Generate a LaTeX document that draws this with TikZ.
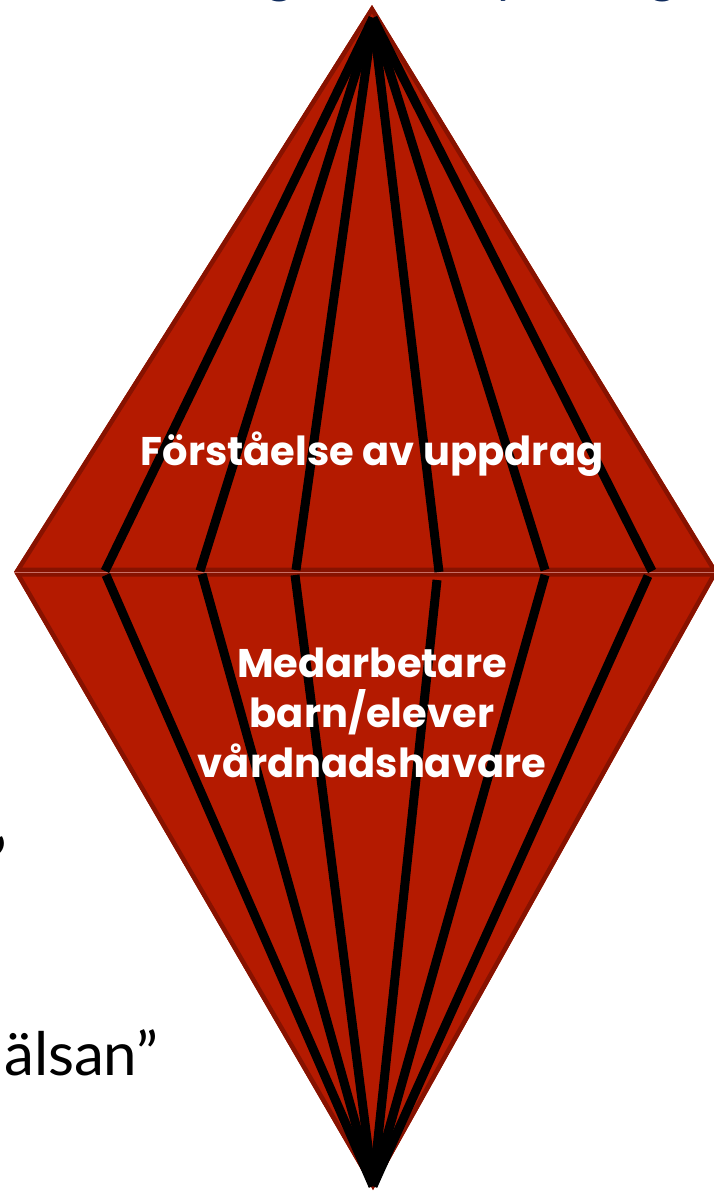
\documentclass[tikz,border=0pt]{standalone}
\usepackage{fontspec}
\usepackage{graphicx}
\setmainfont{Lato}
\newfontfamily\labelfont{Poppins}
\definecolor{mainred}{RGB}{180,26,0}
\definecolor{darkred}{RGB}{135,18,0}
\definecolor{seam}{RGB}{200,110,100}
\definecolor{navy}{RGB}{14,42,92}
\tikzset{
  stripe/.style={line width=9pt, black, line cap=butt},
  lbl/.style={text=white, font=\labelfont\bfseries\fontsize{40}{40}\selectfont, inner sep=0pt, anchor=base},
  bgtext/.style={text=black, font=\fontsize{60}{60}\selectfont, inner sep=0pt, anchor=base west},
  title/.style={text=navy, font=\fontsize{52}{52}\selectfont, inner sep=0pt, anchor=base}
}
\begin{document}
\begin{tikzpicture}[x=1pt,y=-1pt]
\useasboundingbox (0,0) rectangle (714,1191);
% background slide fragments
\begin{scope}
\clip (0,0) rectangle (714,1191);
\node[title] (g1) at (280,-8) {g};
\node[title] (y1) at (508,-8) {y};
\node[title] (g2) at (663,-8) {g};
\node[bgtext] (q1) at (-6,882) {’};
\node[bgtext] (w1) at (4,1075) {älsan”};
\end{scope}
% corners
\coordinate (T) at (372,5);
\coordinate (L) at (14,572);
\coordinate (R) at (718,572);
\coordinate (B) at (373,1190);
% upper triangle
\fill[mainred] (T) -- (L) -- (R) -- cycle;
\begin{scope}
\clip (T) -- (L) -- (R) -- cycle;
\draw[darkred, line width=9pt, line join=miter] (T) -- (L) -- (R) -- cycle;
\end{scope}
% lower triangle
\fill[mainred] (L) -- (B) -- (R) -- cycle;
\begin{scope}
\clip (L) -- (B) -- (R) -- cycle;
\draw[darkred, line width=9pt, line join=miter] (L) -- (B) -- (R) -- cycle;
\end{scope}
\draw[seam, line width=1pt] (L) -- (R);
% hubs and stripe ends
\coordinate (H1) at (373,18);
\coordinate (H2) at (373,1186);
\coordinate (u1) at (105,571);
\coordinate (u2) at (200,571);
\coordinate (u3) at (296,570);
\coordinate (u4) at (439,572);
\coordinate (u5) at (545,570);
\coordinate (u6) at (652,571);
\coordinate (l1) at (106,575);
\coordinate (l2) at (202,574);
\coordinate (l3) at (295,575);
\coordinate (l4) at (437,580);
\coordinate (l5) at (545,575);
\coordinate (l6) at (648,576);
\foreach \i in {1,...,6} {
  \draw[stripe] (H1) -- (u\i);
  \draw[stripe] (l\i) -- (H2);
}
% labels
\node[lbl] (a) at (372,465) {Förståelse av uppdrag};
\node[lbl] (b1) at (372,677) {Medarbetare};
\node[lbl] (b2) at (372,727) {barn/elever};
\node[lbl] (b3) at (372,777) {vårdnadshavare};
\end{tikzpicture}
\end{document}
